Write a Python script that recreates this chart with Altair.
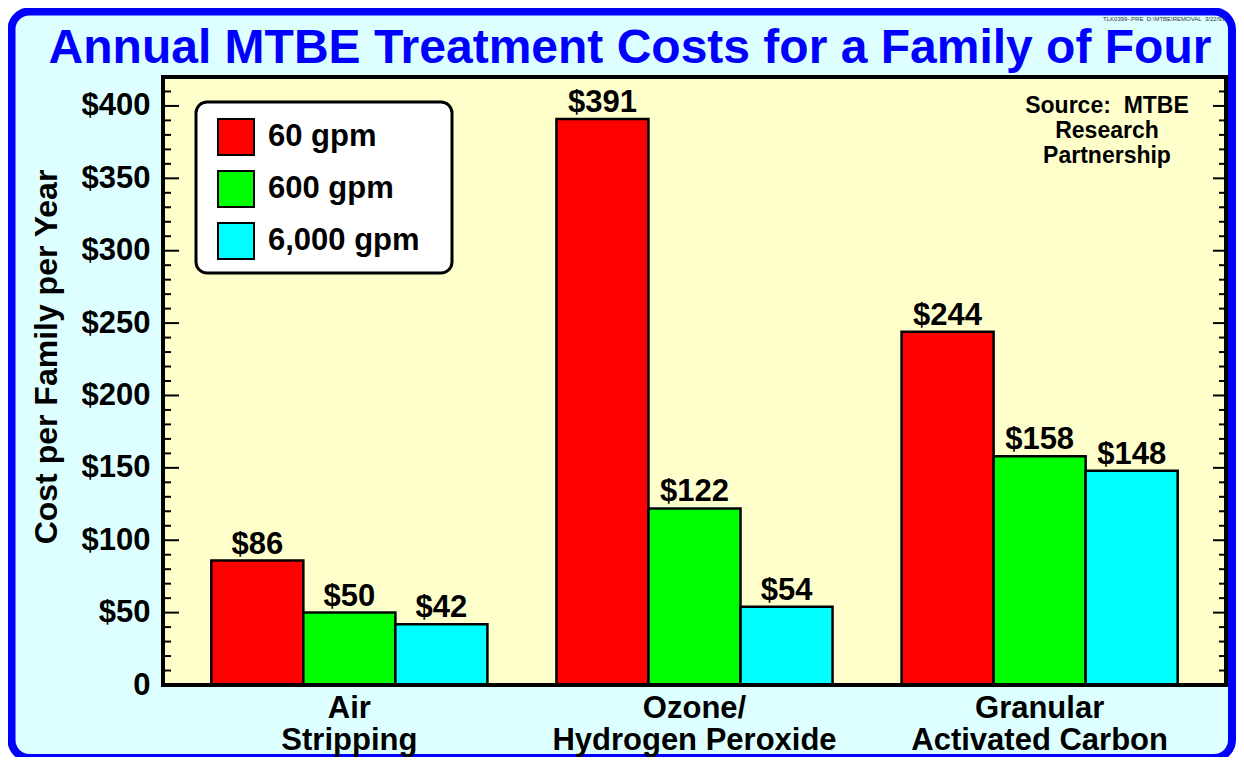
import altair as alt
import pandas as pd

# ---------------- data ----------------
categories = ["Air|Stripping", "Ozone/|Hydrogen Peroxide", "Granular|Activated Carbon"]
series = ["60 gpm", "600 gpm", "6,000 gpm"]
colors = ["#FF0000", "#00FF00", "#00FFFF"]
cost_60 = [86, 391, 244]
cost_600 = [50, 122, 158]
cost_6000 = [42, 54, 148]
y_major = [0, 50, 100, 150, 200, 250, 300, 350, 400]
y_minor = [10, 20, 30, 40, 60, 70, 80, 90, 110, 120, 130, 140, 160, 170, 180, 190,
           210, 220, 230, 240, 260, 270, 280, 290, 310, 320, 330, 340, 360, 370,
           380, 390, 410]
title_text = "Annual MTBE Treatment Costs for a Family of Four"
y_title = "Cost per Family per Year"
source_lines = ["Source:\u00a0\u00a0MTBE", "Research", "Partnership"]
stamp = "TLK0399-.PRE\u00a0\u00a0D:\\MTBE\\REMOVAL\u00a0\u00a03/22/99"

W, H = 1063, 608
FONT = "Liberation Sans"
YMAX = 420

rows = []
for i, c in enumerate(categories):
    for s, vals in zip(series, [cost_60, cost_600, cost_6000]):
        rows.append({"method": c, "flow": s, "cost": vals[i], "label": f"${vals[i]}"})
df = pd.DataFrame(rows)

one = pd.DataFrame({"d": [0]})

y_scale = alt.Scale(domain=[0, YMAX], nice=False, zero=True)
y_axis = alt.Axis(
    title=None, values=y_major, ticks=False, tickSize=0, domain=False, grid=False,
    labelExpr="datum.value == 0 ? '0' : '$' + datum.value",
    labelFont=FONT, labelFontSize=31, labelFontWeight="bold", labelColor="black",
    labelPadding=13, labelBaseline="middle", zindex=1,
)
x_axis = alt.Axis(
    title=None, labelExpr="split(datum.label, '|')", labelAngle=0,
    labelFont=FONT, labelFontSize=31, labelFontWeight="bold", labelColor="black",
    labelLineHeight=32, labelPadding=32, labelBaseline="alphabetic",
    ticks=False, tickSize=0, domain=False, grid=False, zindex=1, labelLimit=400,
)
x_enc = alt.X("method:N", sort=categories,
              scale=alt.Scale(paddingInner=0.2, paddingOuter=0.14), axis=x_axis)
xo_enc = alt.XOffset("flow:N", sort=series, scale=alt.Scale(paddingInner=0, paddingOuter=0))

# ---------------- decorations ----------------
frame = alt.Chart(one).mark_rect(
    fill="#DDFFFF", stroke="#0000FF", strokeWidth=8, cornerRadius=18
).encode(x=alt.value(-151.5), x2=alt.value(1069), y=alt.value(-65.5), y2=alt.value(681))

plot_bg = alt.Chart(one).mark_rect(fill="#FFFFCC").encode(
    x=alt.value(0), x2=alt.value(W), y=alt.value(0), y2=alt.value(H))

border = alt.Chart(one).mark_rect(fillOpacity=0, stroke="black", strokeWidth=4).encode(
    x=alt.value(0), x2=alt.value(W), y=alt.value(0), y2=alt.value(H))

legend_box = alt.Chart(one).mark_rect(
    fill="white", stroke="black", strokeWidth=3, cornerRadius=11
).encode(x=alt.value(33), x2=alt.value(289), y=alt.value(25), y2=alt.value(196))

title = alt.Chart(one).mark_text(
    text=title_text, font=FONT, fontSize=48, fontWeight="bold", color="#0000FF",
    align="center", baseline="alphabetic"
).encode(x=alt.value(467), y=alt.value(-14))

stamp_t = alt.Chart(one).mark_text(
    text=stamp, font=FONT, fontSize=6, color="#333333", align="right", baseline="middle"
).encode(x=alt.value(1062), y=alt.value(-58))

source_t = alt.Chart(one).mark_text(
    text=source_lines, font=FONT, fontSize=23, fontWeight="bold", color="black",
    align="center", baseline="alphabetic", lineHeight=25
).encode(x=alt.value(944), y=alt.value(36))

ytitle_t = alt.Chart(one).mark_text(
    text=y_title, font=FONT, fontSize=32, fontWeight="bold", color="black",
    align="center", baseline="middle", angle=270
).encode(x=alt.value(-116), y=alt.value(280))

# ---------------- ticks ----------------
def tick_layer(vals, x1, x2):
    return alt.Chart(pd.DataFrame({"tick": vals})).mark_rule(
        color="black", strokeWidth=2
    ).encode(
        y=alt.Y("tick:Q", scale=y_scale, axis=y_axis),
        x=alt.value(x1), x2=alt.value(x2),
    )

ticks = [
    tick_layer(y_major, 0, 16),
    tick_layer(y_minor, 0, 8),
    tick_layer(y_major, W - 13, W),
    tick_layer(y_minor, W - 7, W),
]

# ---------------- bars ----------------
bars = alt.Chart(df).mark_bar(stroke="black", strokeWidth=2.5, opacity=1).encode(
    x=x_enc,
    xOffset=xo_enc,
    y=alt.Y("cost:Q", scale=y_scale, axis=y_axis),
    color=alt.Color(
        "flow:N", sort=series, scale=alt.Scale(domain=series, range=colors),
        legend=alt.Legend(
            title=None, orient="none", legendX=54, legendY=41,
            symbolType="square", symbolSize=1296, symbolStrokeColor="black",
            symbolStrokeWidth=2, symbolOpacity=1,
            labelFont=FONT, labelFontSize=31, labelFontWeight="bold", labelColor="black",
            labelOffset=13, rowPadding=8, padding=0, labelLimit=400,
        ),
    ),
)

labels = alt.Chart(df).mark_text(
    font=FONT, fontSize=31, fontWeight="bold", color="black",
    baseline="alphabetic", dy=-7
).encode(
    x=x_enc,
    xOffset=xo_enc,
    y=alt.Y("cost:Q", scale=y_scale, axis=y_axis),
    text="label:N",
)

chart = alt.layer(
    frame, plot_bg, bars, labels, *ticks, border, legend_box,
    title, stamp_t, source_t, ytitle_t,
).properties(
    width=W, height=H,
    autosize=alt.AutoSizeParams(type="none"),
    padding={"left": 155, "top": 69, "right": 10, "bottom": 72},
    background="white",
).configure_view(strokeWidth=0)

chart.save("out.html", embed_options={"renderer": "svg", "actions": False})
